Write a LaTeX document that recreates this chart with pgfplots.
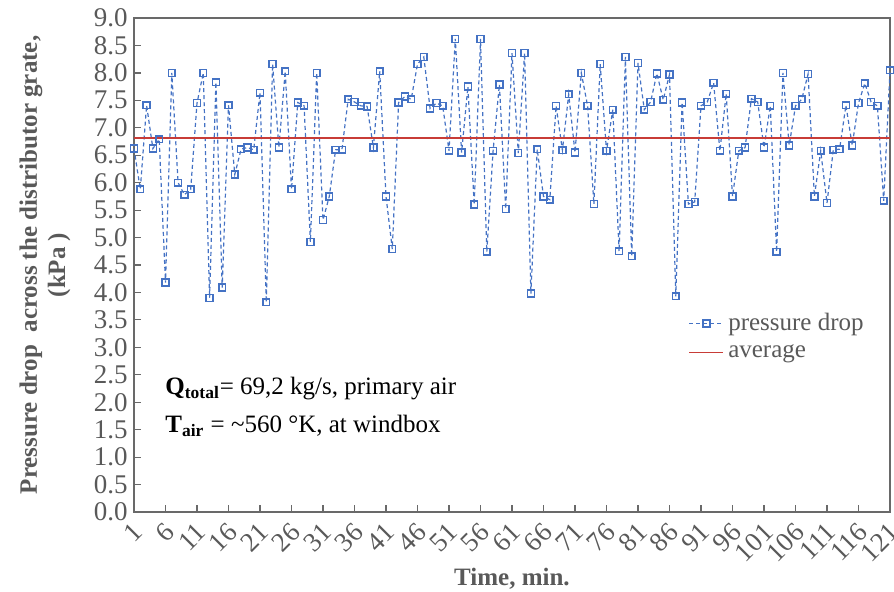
\documentclass[border=0pt]{standalone}
\usepackage{fontspec}
\setmainfont{Liberation Serif}
\usepackage{pgfplots}
\pgfplotsset{compat=1.18}
\definecolor{txtgray}{RGB}{89,89,89}
\definecolor{axgray}{RGB}{105,105,105}
\definecolor{serblue}{RGB}{68,114,196}
\definecolor{avgred}{RGB}{200,60,55}
\pgfplotstableread{
x y
1 6.62
2 5.88
3 7.41
4 6.62
5 6.79
6 4.18
7 8.00
8 6.00
9 5.78
10 5.88
11 7.45
12 8.00
13 3.90
14 7.83
15 4.09
16 7.41
17 6.15
18 6.61
19 6.64
20 6.60
21 7.64
22 3.82
23 8.16
24 6.64
25 8.03
26 5.88
27 7.46
28 7.40
29 4.92
30 8.00
31 5.32
32 5.75
33 6.60
34 6.60
35 7.52
36 7.47
37 7.40
38 7.39
39 6.64
40 8.03
41 5.75
42 4.79
43 7.46
44 7.57
45 7.52
46 8.16
47 8.29
48 7.35
49 7.45
50 7.40
51 6.58
52 8.62
53 6.55
54 7.75
55 5.60
56 8.62
57 4.74
58 6.58
59 7.79
60 5.52
61 8.36
62 6.54
63 8.36
64 3.98
65 6.61
66 5.75
67 5.69
68 7.40
69 6.59
70 7.61
71 6.55
72 8.00
73 7.40
74 5.61
75 8.16
76 6.58
77 7.33
78 4.75
79 8.29
80 4.66
81 8.18
82 7.33
83 7.47
84 7.99
85 7.51
86 7.97
87 3.93
88 7.46
89 5.61
90 5.65
91 7.40
92 7.47
93 7.82
94 6.58
95 7.62
96 5.75
97 6.58
98 6.64
99 7.53
100 7.47
101 6.64
102 7.40
103 4.74
104 8.00
105 6.68
106 7.40
107 7.52
108 7.98
109 5.75
110 6.58
111 5.63
112 6.60
113 6.61
114 7.41
115 6.68
116 7.45
117 7.81
118 7.47
119 7.40
120 5.67
121 8.05
}\datatable
\begin{document}
\begin{tikzpicture}[font=\fontsize{12.5}{15}\selectfont]
\useasboundingbox (-67pt,-40pt) rectangle (380pt,256pt);
\begin{axis}[
  at={(0pt,0pt)}, anchor=south west,
  scale only axis, width=378pt, height=247pt,
  xmin=1, xmax=121, ymin=0, ymax=9,
  xtick={1,6,...,121},
  ytick={0,0.5,1,1.5,2,2.5,3,3.5,4,4.5,5,5.5,6,6.5,7,7.5,8,8.5,9},
  tick pos=left, tick align=inside,
  major tick length=3.5pt,
  tick style={axgray, line width=0.6pt},
  axis line style={axgray, line width=0.8pt},
  /pgf/number format/assume math mode=true,
  ticklabel style={text=txtgray, font=\fontsize{13.5}{15}\selectfont},
  xticklabel={\pgfmathprintnumber[assume math mode=true]{\tick}},
  yticklabel={\pgfmathprintnumber[assume math mode=true,fixed,fixed zerofill,precision=1]{\tick}},
  yticklabel style={inner sep=2pt, xshift=-1pt},
  xticklabel style={rotate=45, anchor=north east, inner sep=1pt, yshift=-1.5pt, xshift=-3pt},
  xlabel={\textbf{Time, min.}},
  xlabel style={text=txtgray, at={(rel axis cs:0.5,0)}, anchor=base, yshift=-37pt},
  legend style={draw=none, fill=none, at={(rel axis cs:0.725,0.419)}, anchor=north west,
    text=txtgray, font=\fontsize{12.5}{13.5}\selectfont, row sep=1.5pt,
    /tikz/every even column/.append style={column sep=1pt}},
  legend cell align=left,
  clip=false,
]
\addplot[serblue, line width=0.6pt, dash pattern=on 2pt off 1.5pt,
  mark=square, mark size=1.7pt,
  mark options={solid, fill=white, line width=0.75pt}] table[x=x,y=y] {\datatable};
\addlegendentry{pressure drop}
\addplot[avgred, line width=0.8pt] coordinates {(1,6.81) (121,6.81)};
\addlegendentry{average}
\end{axis}
\node[anchor=base west, text=black, inner sep=0pt] at (15.5pt,58.5pt) {\textbf{Q}\textsubscript{\textbf{total}}= 69,2 kg/s, primary air};
\node[anchor=base west, text=black, inner sep=0pt] at (15.5pt,39.5pt) {\textbf{T}\textsubscript{\textbf{air}} = \textasciitilde560 °K, at windbox};
\node[rotate=90, text=txtgray, font=\bfseries\fontsize{12.5}{15}\selectfont] at (-51.5pt,123.5pt) {Pressure drop\ \ across the distributor grate,};
\node[rotate=90, text=txtgray, font=\bfseries\fontsize{12.5}{15}\selectfont] at (-37.5pt,123.5pt) {(kPa )};
\end{tikzpicture}
\end{document}
